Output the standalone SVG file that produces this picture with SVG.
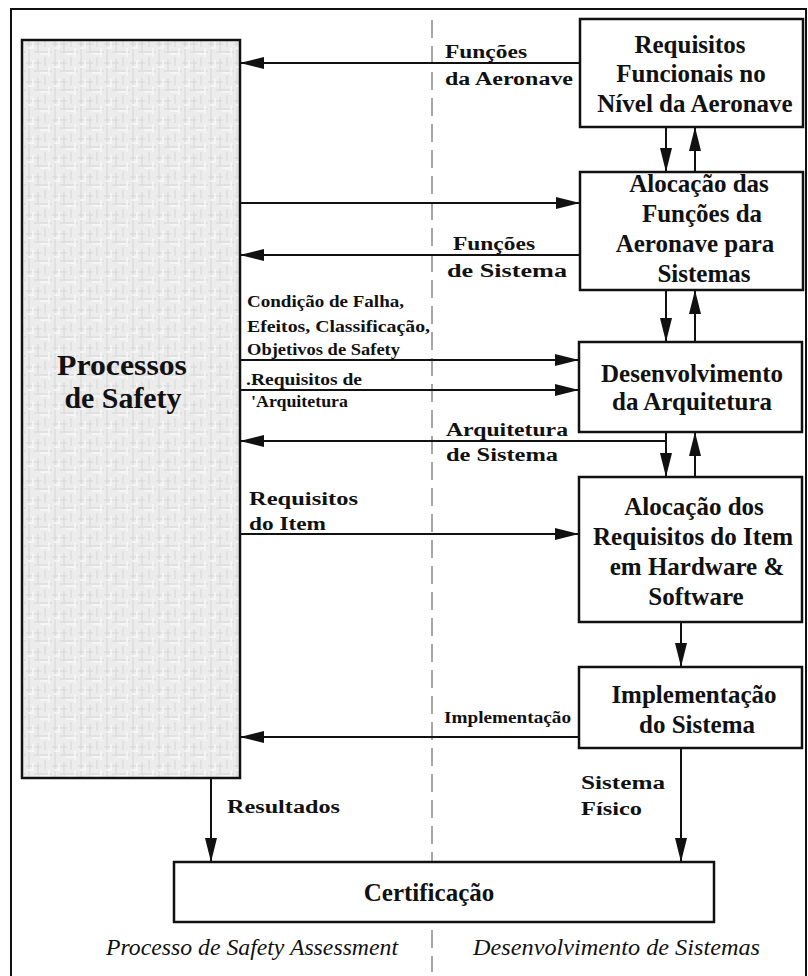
<svg xmlns="http://www.w3.org/2000/svg" width="808" height="976" viewBox="0 0 808 976">
<defs>
<style>
.box{fill:#fff;stroke:#111;stroke-width:2.5}
.t{font-family:"Liberation Serif","Times New Roman",serif;font-weight:bold;fill:#111}
.bt{font-size:25px;text-anchor:middle}
.lb{font-size:18px}
.sm{font-size:17px}
.it{font-family:"Liberation Serif","Times New Roman",serif;font-style:italic;font-size:24px;fill:#111}
.ln{stroke:#111;stroke-width:2;fill:none}
</style>
<marker id="ah" viewBox="0 0 24 12" refX="24" refY="6" markerWidth="24" markerHeight="12" markerUnits="userSpaceOnUse" orient="auto">
<path d="M0,0 L24,6 L0,12 Z" fill="#111"/>
</marker>
<pattern id="noise" width="26" height="19" patternUnits="userSpaceOnUse">
<rect width="26" height="19" fill="#ececec"/>
<path d="M3 0v19M12 2v12M19 0v9M0 6h15M8 14h18" stroke="#d6d6d6" stroke-width="1"/>
<path d="M7 3v8M23 10v9M14 16h8M2 10h5" stroke="#f8f8f8" stroke-width="1.5"/>
</pattern>
</defs>
<rect width="808" height="976" fill="#fff"/>
<rect x="11" y="9" width="795" height="975" fill="none" stroke="#111" stroke-width="2"/>
<line x1="432" y1="20" x2="432" y2="972" stroke="#777" stroke-width="1.3" stroke-dasharray="18,8"/>

<g id="safety">
<rect x="22" y="40" width="218" height="738" fill="url(#noise)" stroke="#111" stroke-width="2.5"/>
<text class="t" x="122" y="375" font-size="30" text-anchor="middle" textLength="130" lengthAdjust="spacingAndGlyphs">Processos</text>
<text class="t" x="123" y="408" font-size="30" text-anchor="middle" textLength="117" lengthAdjust="spacingAndGlyphs">de Safety</text>
</g>

<g id="req-func">
<rect class="box" x="580" y="19" width="223" height="108"/>
<text class="t bt" x="690" y="53">Requisitos</text>
<text class="t bt" x="691" y="82">Funcionais no</text>
<text class="t bt" x="695" y="112">Nível da Aeronave</text>
</g>

<g id="aloc-func">
<rect class="box" x="580" y="172" width="223" height="118"/>
<text class="t bt" x="699" y="192">Alocação das</text>
<text class="t bt" x="702" y="222">Funções da</text>
<text class="t bt" x="695" y="252">Aeronave para</text>
<text class="t bt" x="704" y="282">Sistemas</text>
</g>

<g id="des-arq">
<rect class="box" x="579" y="342" width="223" height="90"/>
<text class="t bt" x="692" y="382">Desenvolvimento</text>
<text class="t bt" x="692" y="410">da Arquitetura</text>
</g>

<g id="aloc-req">
<rect class="box" x="579" y="477" width="223" height="145"/>
<text class="t bt" x="694" y="515">Alocação dos</text>
<text class="t bt" x="693" y="545">Requisitos do Item</text>
<text class="t bt" x="697" y="575">em Hardware &amp;</text>
<text class="t bt" x="696" y="605">Software</text>
</g>

<g id="impl">
<rect class="box" x="579" y="667" width="223" height="81"/>
<text class="t bt" x="694" y="703">Implementação</text>
<text class="t bt" x="697" y="733">do Sistema</text>
</g>

<g id="cert">
<rect class="box" x="174" y="862" width="540" height="60"/>
<text class="t bt" x="429" y="901" text-anchor="middle">Certificação</text>
</g>

<g id="connectors">
<line class="ln" x1="580" y1="63" x2="240" y2="63" marker-end="url(#ah)"/>
<line class="ln" x1="240" y1="203" x2="580" y2="203" marker-end="url(#ah)"/>
<line class="ln" x1="580" y1="255" x2="240" y2="255" marker-end="url(#ah)"/>
<line class="ln" x1="240" y1="360" x2="579" y2="360" marker-end="url(#ah)"/>
<line class="ln" x1="240" y1="390" x2="579" y2="390" marker-end="url(#ah)"/>
<line class="ln" x1="666" y1="441" x2="240" y2="441" marker-end="url(#ah)"/>
<line class="ln" x1="240" y1="534" x2="579" y2="534" marker-end="url(#ah)"/>
<line class="ln" x1="579" y1="737" x2="240" y2="737" marker-end="url(#ah)"/>

<line class="ln" x1="666" y1="127" x2="666" y2="172" marker-end="url(#ah)"/>
<line class="ln" x1="695" y1="172" x2="695" y2="127" marker-end="url(#ah)"/>
<line class="ln" x1="666" y1="290" x2="666" y2="342" marker-end="url(#ah)"/>
<line class="ln" x1="695" y1="342" x2="695" y2="290" marker-end="url(#ah)"/>
<line class="ln" x1="666" y1="432" x2="666" y2="477" marker-end="url(#ah)"/>
<line class="ln" x1="695" y1="477" x2="695" y2="432" marker-end="url(#ah)"/>
<line class="ln" x1="681" y1="622" x2="681" y2="667" marker-end="url(#ah)"/>
<line class="ln" x1="681" y1="748" x2="681" y2="862" marker-end="url(#ah)"/>
<line class="ln" x1="211" y1="778" x2="211" y2="862" marker-end="url(#ah)"/>

<text class="t lb" x="445" y="58" textLength="82" lengthAdjust="spacingAndGlyphs">Funções</text>
<text class="t lb" x="445" y="85" textLength="128" lengthAdjust="spacingAndGlyphs">da Aeronave</text>
<text class="t lb" x="453" y="250" textLength="82" lengthAdjust="spacingAndGlyphs">Funções</text>
<text class="t lb" x="447" y="277" textLength="120" lengthAdjust="spacingAndGlyphs">de Sistema</text>
<text class="t sm" x="247" y="307" textLength="157" lengthAdjust="spacingAndGlyphs">Condição de Falha,</text>
<text class="t sm" x="247" y="332" textLength="183" lengthAdjust="spacingAndGlyphs">Efeitos, Classificação,</text>
<text class="t sm" x="247" y="355" textLength="153" lengthAdjust="spacingAndGlyphs">Objetivos de Safety</text>
<text class="t sm" x="246" y="385" textLength="116" lengthAdjust="spacingAndGlyphs">.Requisitos de</text>
<text class="t sm" x="251" y="407" textLength="97" lengthAdjust="spacingAndGlyphs">'Arquitetura</text>
<text class="t lb" x="446" y="436" textLength="122" lengthAdjust="spacingAndGlyphs">Arquitetura</text>
<text class="t lb" x="446" y="461" textLength="112" lengthAdjust="spacingAndGlyphs">de Sistema</text>
<text class="t lb" x="249" y="505" textLength="109" lengthAdjust="spacingAndGlyphs">Requisitos</text>
<text class="t lb" x="249" y="530" textLength="77" lengthAdjust="spacingAndGlyphs">do Item</text>
<text class="t sm" x="444" y="723" textLength="127" lengthAdjust="spacingAndGlyphs">Implementação</text>
<text class="t lb" x="227" y="813" textLength="113" lengthAdjust="spacingAndGlyphs">Resultados</text>
<text class="t lb" x="581" y="789" textLength="84" lengthAdjust="spacingAndGlyphs">Sistema</text>
<text class="t lb" x="581" y="815" textLength="61" lengthAdjust="spacingAndGlyphs">Físico</text>
</g>

<text class="it" x="106" y="955" textLength="292" lengthAdjust="spacingAndGlyphs">Processo de Safety Assessment</text>
<text class="it" x="473" y="955" textLength="287" lengthAdjust="spacingAndGlyphs">Desenvolvimento de Sistemas</text>
</svg>
